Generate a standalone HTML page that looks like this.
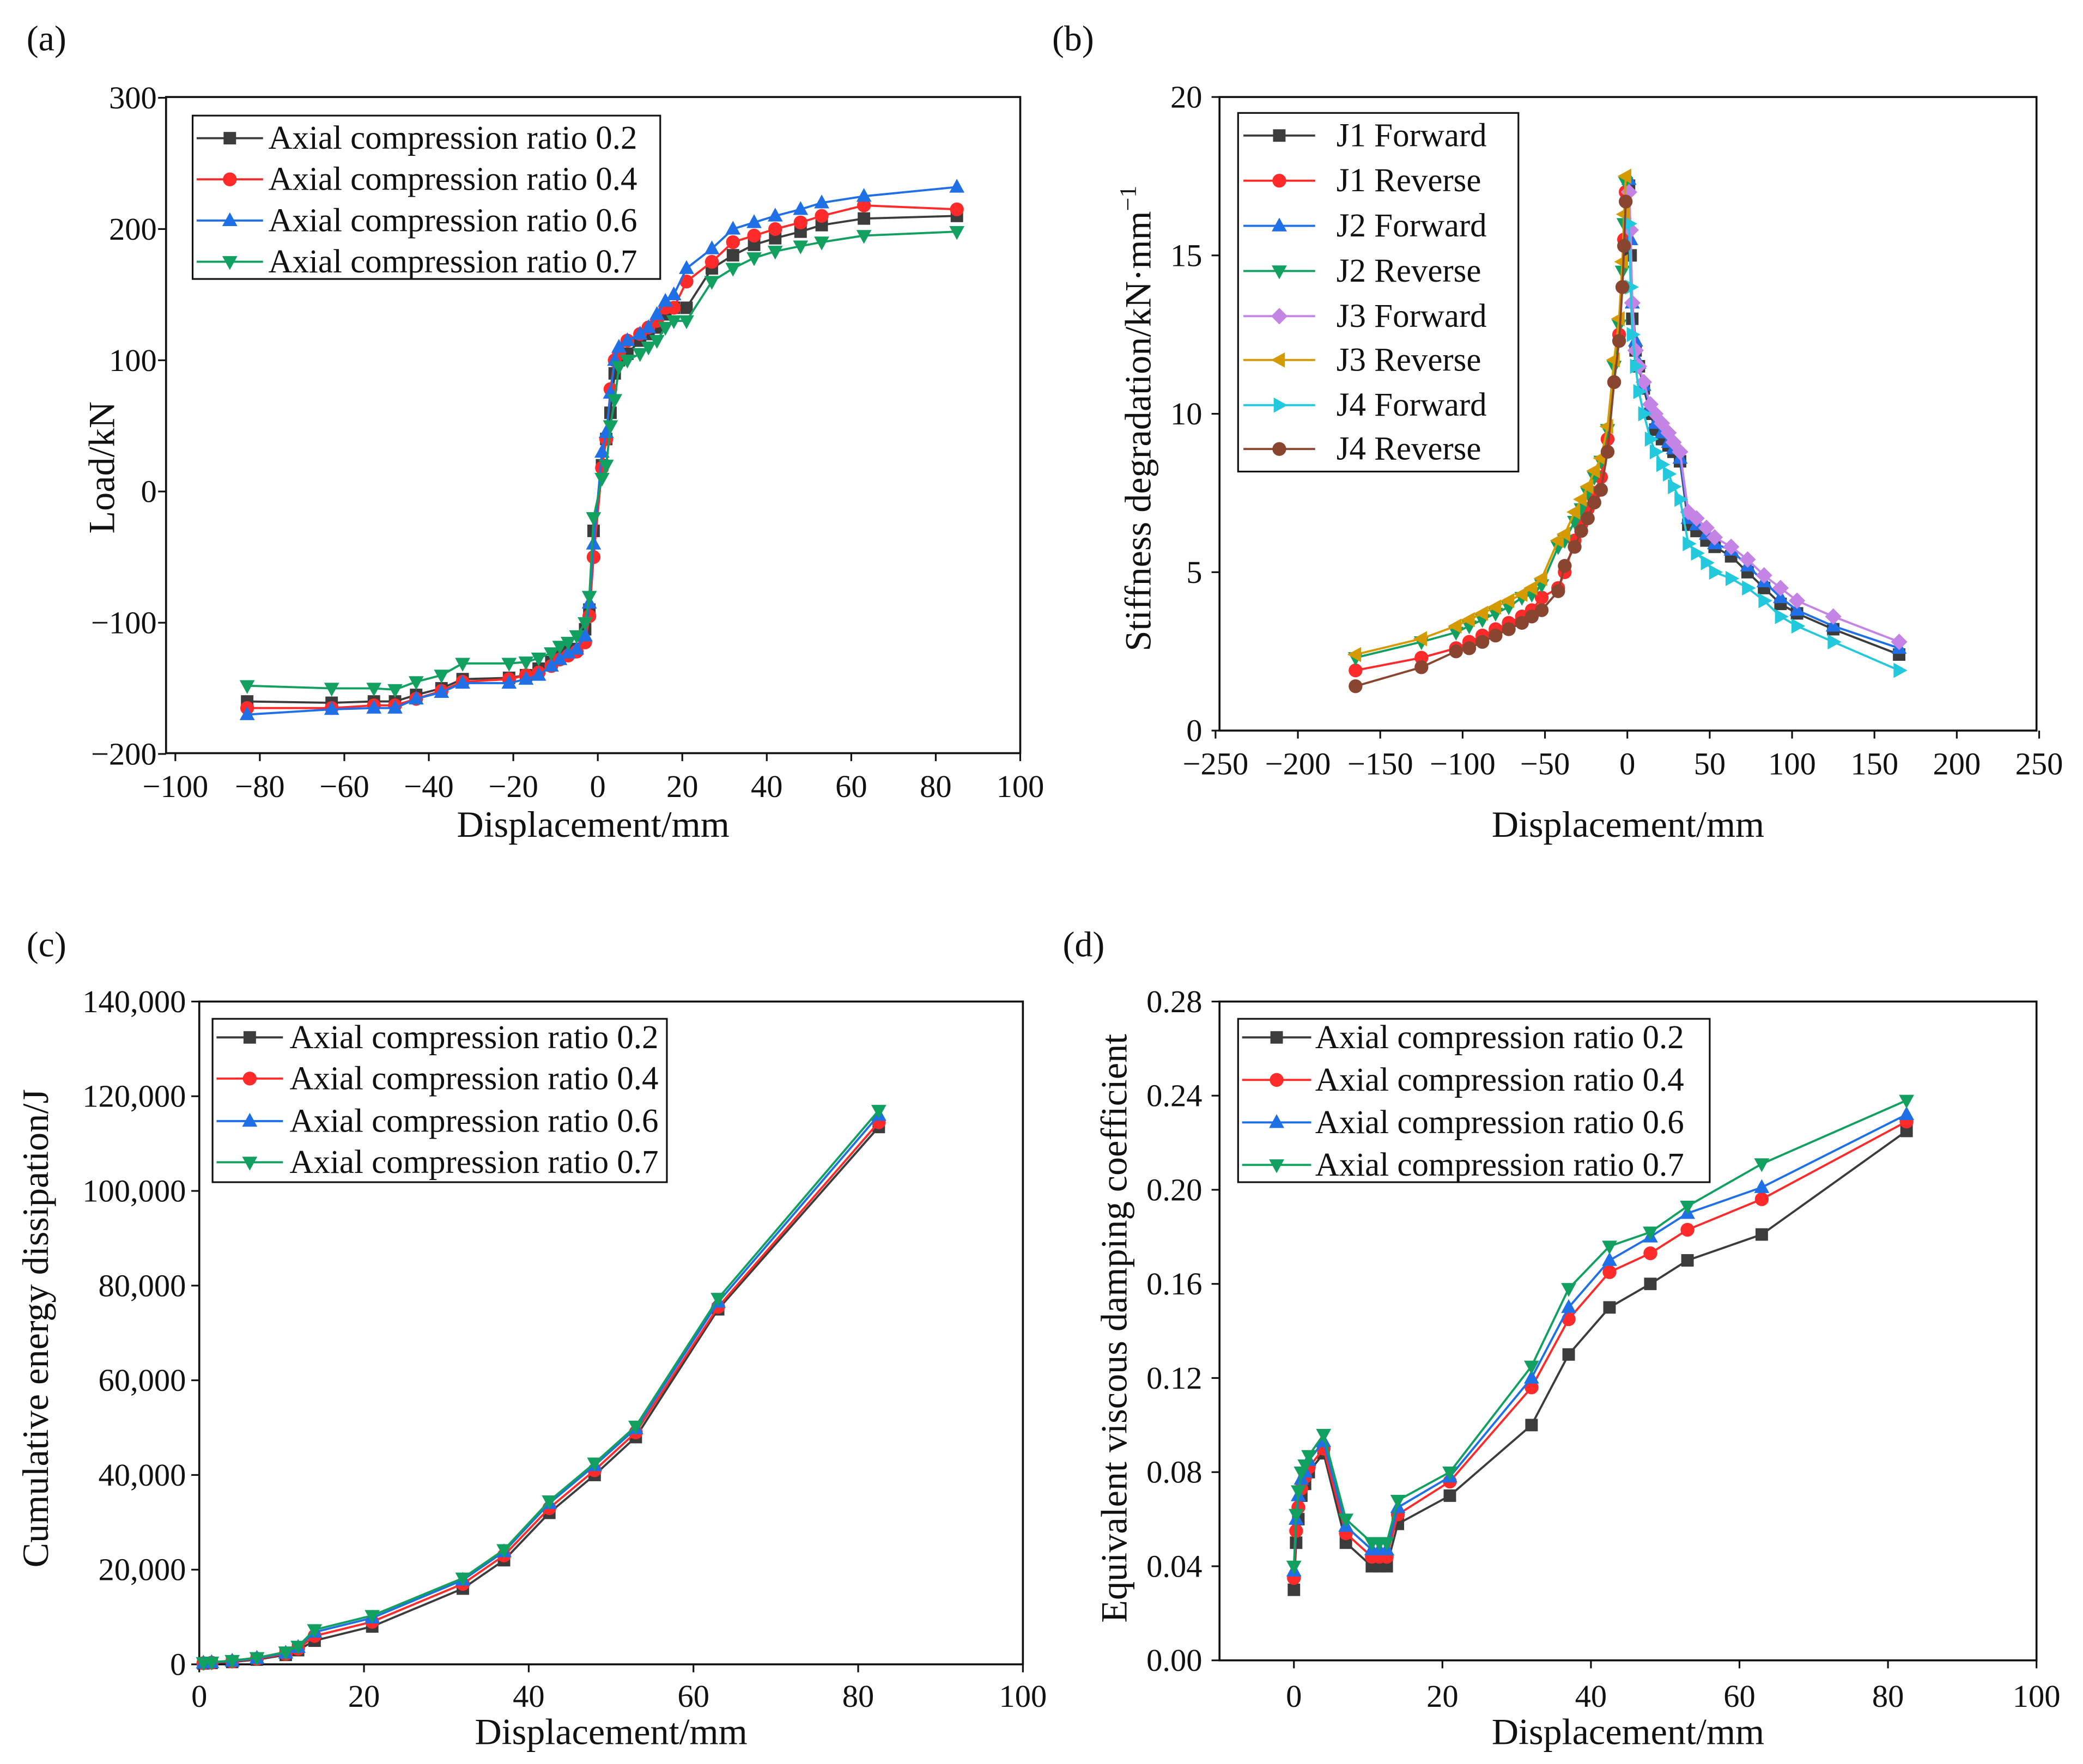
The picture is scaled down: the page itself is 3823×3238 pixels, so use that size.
<!DOCTYPE html>
<html><head><meta charset="utf-8"><style>
html,body{margin:0;padding:0;background:#fff;}
svg{display:block;font-family:"Liberation Serif",serif;}
</style></head><body>
<svg id="fig" width="3823" height="3238" viewBox="0 0 1568 1328" xmlns="http://www.w3.org/2000/svg">
<rect width="1568" height="1328" fill="#fff"/>
</svg>
<script>
// ---------- Panel (a) data ----------
const aX = [-83,-63,-53,-48,-43,-37,-32,-21,-17,-14,-11,-9,-7,-5,-3,-2,-1,1,2,3,4,5,7,10,12,14,16,18,21,27,32,37,42,48,53,63,85];
const aLoad02 = [-160,-161,-160,-160,-155,-150,-143,-142,-140,-135,-130,-125,-122,-120,-105,-90,-30,20,40,60,90,100,105,115,120,125,135,140,140,170,180,188,193,198,203,208,210];
const aLoad04 = [-165,-165,-163,-163,-158,-152,-145,-143,-140,-138,-133,-128,-125,-122,-115,-95,-50,18,40,78,100,105,115,120,125,130,140,140,160,175,190,195,200,205,210,218,215];
const aLoad06 = [-170,-166,-165,-165,-158,-153,-146,-146,-143,-140,-133,-128,-123,-120,-110,-85,-40,30,45,75,100,110,115,120,125,135,145,150,170,185,200,205,210,215,220,225,232];
const aLoad07 = [-148,-150,-150,-151,-145,-140,-131,-131,-130,-127,-123,-118,-115,-110,-100,-80,-20,10,20,50,70,95,100,105,110,115,125,130,130,160,170,178,183,187,190,195,198];
const aLegend = ["Axial compression ratio 0.2","Axial compression ratio 0.4","Axial compression ratio 0.6","Axial compression ratio 0.7"];
const aXTicks = [-100,-80,-60,-40,-20,0,20,40,60,80,100];
const aYTicks = [-200,-100,0,100,200,300];

// ---------- Panel (b) data ----------
const bXPos = [1,2,3,5,7,10,14,17,21,25,28,32,37,42,48,53,63,73,83,93,103,125,165];
const bXNeg = [-1,-2,-3,-5,-8,-12,-16,-20,-24,-28,-32,-38,-42,-52,-58,-64,-72,-80,-88,-96,-104,-125,-165];
const bJ1F = [17.2,15,13,12,11.5,10.8,10,9.5,9.2,9,8.8,8.5,6.5,6.3,6,5.8,5.5,5,4.5,4,3.7,3.2,2.4];
const bJ2F = [17.4,15.5,13.5,12.3,11.6,10.9,10.2,9.7,9.4,9.1,8.9,8.6,6.7,6.5,6.2,5.9,5.7,5.2,4.7,4.2,3.8,3.3,2.6];
const bJ3F = [17,15.8,13.5,12,11.5,11,10.3,10,9.7,9.4,9.1,8.8,6.9,6.7,6.4,6.1,5.8,5.4,4.9,4.5,4.1,3.6,2.8];
const bJ4F = [16,14,12.5,11.5,10.7,10,9.2,8.8,8.4,8.1,7.7,7.3,5.9,5.6,5.3,5.0,4.8,4.5,4.1,3.6,3.3,2.8,1.9];
const bJ1R = [17,15.5,14,12.5,11,9.2,8,7.5,7,6.5,6,5,4.5,4.2,3.8,3.6,3.4,3.2,3,2.8,2.6,2.3,1.9];
const bJ2R = [17.3,16,14.5,12.8,11.5,9.5,8.5,8,7.5,7,6.6,6,5.8,4.6,4.3,4.2,3.9,3.7,3.5,3.3,3.1,2.8,2.3];
const bJ3R = [17.5,16.3,14.8,13,11.7,9.6,8.6,8.2,7.7,7.3,6.9,6.2,6,4.8,4.5,4.3,4.1,3.9,3.7,3.5,3.3,2.9,2.4];
const bJ4R = [16.7,15.3,14,12.3,11,8.8,7.6,7.2,6.7,6.3,5.8,5.2,4.4,3.8,3.6,3.4,3.2,3.0,2.8,2.6,2.5,2.0,1.4];
const bLegend = ["J1 Forward","J1 Reverse","J2 Forward","J2 Reverse","J3 Forward","J3  Reverse","J4 Forward","J4 Reverse"];
const bXTicks = [-250,-200,-150,-100,-50,0,50,100,150,200,250];
const bYTicks = [0,5,10,15,20];

// ---------- Panel (c) data ----------
const cX = [0.5,1.5,4,7,10.5,12,14,21,32,37,42.5,48,53,63,82.5];
const cE02 = [200,300,500,1000,2000,3000,5000,8000,16000,22000,32000,40000,48000,75000,113500];
const cE04 = [250,350,600,1200,2200,3300,6000,9000,17000,23000,33000,41000,49000,75500,114500];
const cE06 = [300,400,700,1300,2400,3600,6800,9800,17800,23800,34000,42000,49800,76500,116000];
const cE07 = [350,450,800,1400,2600,3800,7300,10300,18200,24200,34500,42500,50300,77300,117000];
const cXTicks = [0,20,40,60,80,100];
const cYTicks = [0,20000,40000,60000,80000,100000,120000,140000];

// ---------- Panel (d) data ----------
const dX = [0,0.3,0.6,1,1.5,2,4,7,10.5,11.5,12.5,14,21,32,37,42.5,48,53,63,82.5];
const dH02 = [.03,.05,.06,.07,.075,.08,.088,.05,.04,.04,.04,.058,.07,.10,.13,.15,.16,.17,.181,.225];
const dH04 = [.035,.055,.065,.073,.078,.082,.09,.054,.044,.044,.044,.062,.076,.116,.145,.165,.173,.183,.196,.229];
const dH06 = [.038,.06,.07,.077,.08,.085,.093,.057,.047,.047,.047,.065,.078,.12,.15,.17,.18,.19,.201,.232];
const dH07 = [.04,.062,.072,.08,.083,.087,.096,.06,.05,.05,.05,.068,.08,.125,.158,.176,.182,.193,.211,.238];
const dXTicks = [0,20,40,60,80,100];
const dYTicks = [0,0.04,0.08,0.12,0.16,0.20,0.24,0.28];

const NS = "http://www.w3.org/2000/svg";
const svg = document.getElementById('fig');
function mk(tag, attrs, parent){
  const e = document.createElementNS(NS, tag);
  for (const k in attrs) e.setAttribute(k, attrs[k]);
  (parent||svg).appendChild(e);
  return e;
}
function txt(s, x, y, size, anchor, parent){
  const t = mk('text', {x:x, y:y, 'font-size':size, 'text-anchor':anchor||'middle', fill:'#111'}, parent);
  t.textContent = s;
  return t;
}
function marker(type, x, y, color, g){
  const r = 5.2;
  let e;
  if (type==='square') e = mk('rect',{x:x-r+0.5,y:y-r+0.5,width:2*r-1,height:2*r-1,fill:color},g);
  else if (type==='circle') e = mk('circle',{cx:x,cy:y,r:r,fill:color},g);
  else {
    let pts;
    if (type==='up') pts=[[x,y-r-1],[x+r+0.5,y+r-1],[x-r-0.5,y+r-1]];
    else if (type==='down') pts=[[x,y+r+1],[x+r+0.5,y-r+1],[x-r-0.5,y-r+1]];
    else if (type==='diamond') pts=[[x,y-r-1],[x+r+1,y],[x,y+r+1],[x-r-1,y]];
    else if (type==='left') pts=[[x-r-1,y],[x+r-1,y-r-0.5],[x+r-1,y+r+0.5]];
    else pts=[[x+r+1,y],[x-r+1,y-r-0.5],[x-r+1,y+r+0.5]];
    e = mk('polygon',{points:pts.map(p=>p.join(',')).join(' '),fill:color},g);
  }
  
  
  return e;
}
function series(name, xs, ys, sx, sy, color, type){
  const g = mk('g',{});
  
  
  const p = mk('polyline',{points: xs.map((x,i)=>sx(x)+','+sy(ys[i])).join(' '), fill:'none', stroke:color, 'stroke-width':1.6},g);
  
  
  xs.forEach((x,i)=>marker(type, sx(x), sy(ys[i]), color, g));
}
function axes(prefix, box, xt, yt, sx, sy, xfmt, yfmt, xLabY, yLabX, xTitle, xTitleY){
  const g = mk('g',{});
  
  
  const fr = mk('rect',{x:box[0],y:box[1],width:box[2]-box[0],height:box[3]-box[1],fill:'none',stroke:'#111','stroke-width':1.5},g);
  
  
  xt.forEach(v=>{
    const x = sx(v);
    mk('line',{x1:x,y1:box[3],x2:x,y2:box[3]+6,stroke:'#111','stroke-width':1.3},g);
    const t = txt(xfmt(v), x, xLabY, 24, 'middle', g);
    
    
  });
  yt.forEach(v=>{
    const y = sy(v);
    mk('line',{x1:box[0]-6,y1:y,x2:box[0],y2:y,stroke:'#111','stroke-width':1.3},g);
    const t = txt(yfmt(v), yLabX, y+8, 24, 'end', g);
    
    
  });
  const xtl = txt(xTitle, (box[0]+box[2])/2, xTitleY, 28, 'middle', g);
  
  
}
function ytitle(prefix, content, x, y){
  const t = mk('text',{x:0,y:0,'font-size':28,'text-anchor':'middle',fill:'#111',transform:'translate('+x+','+y+') rotate(-90)'});
  t.innerHTML = content;
  
  
}
function legend(prefix, box, labels, colors, types, rowY, lx1, lx2, tx){
  const g = mk('g',{});
  
  
  mk('rect',{x:box[0],y:box[1],width:box[2]-box[0],height:box[3]-box[1],fill:'#fff',stroke:'#111','stroke-width':1.3},g);
  labels.forEach((l,i)=>{
    const y = rowY[i];
    const e = mk('g',{},g);
    
    
    mk('line',{x1:lx1,y1:y,x2:lx2,y2:y,stroke:colors[i],'stroke-width':1.6},e);
    marker(types[i], (lx1+lx2)/2, y, colors[i], e);
    txt(l, tx, y+8, 25, 'start', e);
  });
}
function panelLabel(s,x,y){
  const t = txt(s,x,y,27,'start');
  
  
}
const minus = v => String(v).replace('-','\u2212');
const comma = v => v.toLocaleString('en-US');

const C4 = ['#3c3c3c','#ff2a2a','#1f6fe6','#12a060'];
const T4 = ['square','circle','up','down'];

// ===== Panel (a) =====
{
  const box=[125,73,768,567];
  const sx = v => 450 + v*3.18;
  const sy = v => 370 - v*0.988;
  axes('a', box, aXTicks, aYTicks, sx, sy, minus, minus, 600, 118, 'Displacement/mm', 630);
  ytitle('a','Load/kN',86,352);
  [aLoad02,aLoad04,aLoad06,aLoad07].forEach((ys,i)=>series('a-series-'+i, aX, ys, sx, sy, C4[i], T4[i]));
  legend('a',[145,87,497,210],aLegend,C4,T4,[104,135,166,197],148,198,202);
  panelLabel('(a)',20,38);
}
// ===== Panel (b) =====
{
  const box=[918,73,1533,550];
  const sx = v => 1225 + v*1.24;
  const sy = v => 550 - v*23.85;
  axes('b', box, bXTicks, bYTicks, sx, sy, minus, minus, 583, 905, 'Displacement/mm', 630);
  ytitle('b','Stiffness degradation/kN·mm<tspan dy="-11" font-size="18">−1</tspan>',866,315);
  const bc = ['#3c3c3c','#ff2a2a','#1f6fe6','#12a060','#c484e6','#d49a00','#22c8dc','#8a4530'];
  const bt = ['square','circle','up','down','diamond','left','right','circle'];
  const ys = [bJ1F,bJ1R,bJ2F,bJ2R,bJ3F,bJ3R,bJ4F,bJ4R];
  ys.forEach((y,i)=>series('b-series-'+i, (i%2===0)?bXPos:bXNeg, y, sx, sy, bc[i], bt[i]));
  legend('b',[932,85,1143,355],bLegend,bc,bt,[102,136,170,204,238,271,305,338],936,990,1006);
  panelLabel('(b)',792,38);
}
// ===== Panel (c) =====
{
  const box=[150,754,770,1253];
  const sx = v => 150 + v*6.2;
  const sy = v => 1253 - v*(499/140000);
  axes('c', box, cXTicks, cYTicks, sx, sy, String, comma, 1285, 140, 'Displacement/mm', 1313);
  ytitle('c','Cumulative energy dissipation/J',36,1000);
  [cE02,cE04,cE06,cE07].forEach((ys,i)=>series('c-series-'+i, cX, ys, sx, sy, C4[i], T4[i]));
  legend('c',[160,767,502,890],aLegend,C4,T4,[781,812,844,875],163,213,218);
  panelLabel('(c)',20,720);
}
// ===== Panel (d) =====
{
  const box=[918,754,1533,1250];
  const sx = v => 974 + v*5.59;
  const sy = v => 1250 - v*(496/0.28);
  axes('d', box, dXTicks, dYTicks, sx, sy, String, v=>v.toFixed(2), 1285, 905, 'Displacement/mm', 1313);
  ytitle('d','Equivalent viscous damping coefficient',848,1000);
  [dH02,dH04,dH06,dH07].forEach((ys,i)=>series('d-series-'+i, dX, ys, sx, sy, C4[i], T4[i]));
  legend('d',[932,767,1287,890],aLegend,C4,T4,[781,813,845,877],935,987,990);
  panelLabel('(d)',800,720);
}
</script>
</body></html>
